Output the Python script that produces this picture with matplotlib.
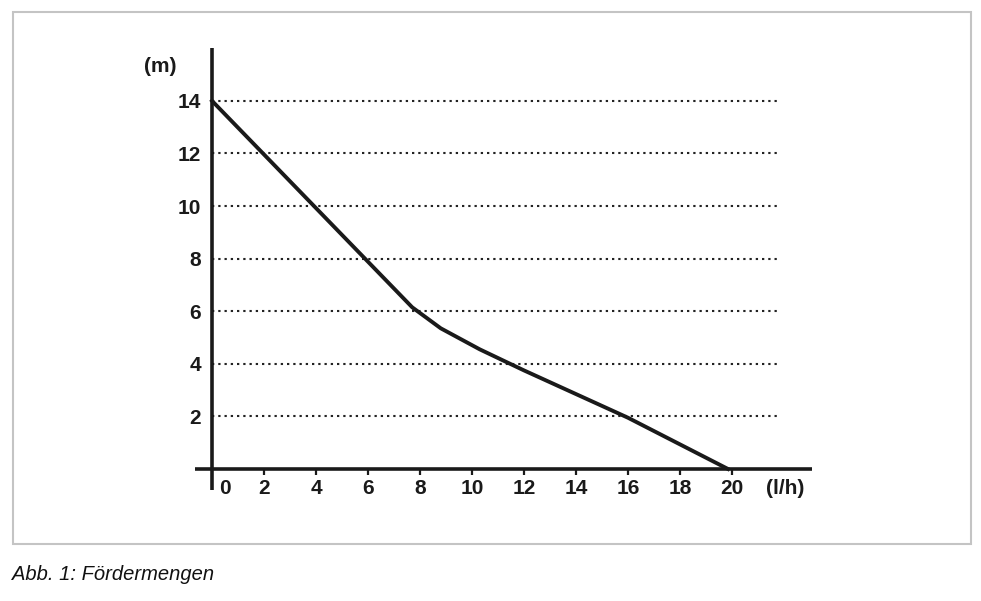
import matplotlib.pyplot as plt
from matplotlib.patches import Rectangle

# Förderkennlinie: Menge (l/h) gegen Förderhöhe (m)
menge = [0, 7.7, 8.8, 10.3, 12, 16, 19.85]
hoehe = [14, 6.15, 5.35, 4.55, 3.75, 1.95, 0]

x_ticks = [2, 4, 6, 8, 10, 12, 14, 16, 18, 20]
y_ticks = [2, 4, 6, 8, 10, 12, 14]

plt.rcParams['font.family'] = ['Liberation Sans', 'DejaVu Sans']
fs = 15

fig = plt.figure(figsize=(9.81, 6.01), dpi=100, facecolor="white")

# grauer Rahmen um die Abbildung
fig.patches.append(Rectangle((13/981, 1-544/601), 958/981, 532/601, transform=fig.transFigure,
                             fill=False, edgecolor="#c4c4c4", linewidth=1.5))

ax = fig.add_axes([212/981, 1-469/601, 600/981, 421/601])
ax.set_xlim(0, 23.08)
ax.set_ylim(0, 16.01)
for s in ax.spines.values():
    s.set_visible(False)

# gepunktete Hilfslinien
for y in y_ticks:
    ax.plot([0, 21.8], [y, y], color="#222222", linestyle=(0, (1.1, 1.9)), linewidth=1.5)

# Achsen
ax.plot([-0.654, 23.08], [0, 0], color="#1a1a1a", linewidth=2.6, clip_on=False, solid_capstyle="butt")
ax.plot([0, 0], [-0.8, 16.01], color="#1a1a1a", linewidth=2.6, clip_on=False, solid_capstyle="butt")

# Kennlinie
ax.plot(menge, hoehe, color="#1a1a1a", linewidth=2.8, solid_joinstyle="round", clip_on=False)

ax.set_xticks(x_ticks)
ax.set_xticklabels([str(v) for v in x_ticks], fontsize=fs, fontweight="bold", color="#1a1a1a")
ax.tick_params(axis="x", direction="out", length=4.5, width=1.6, pad=3, color="#1a1a1a")
ax.set_yticks(y_ticks)
ax.set_yticklabels([str(v) for v in y_ticks], fontsize=fs, fontweight="bold", color="#1a1a1a")
ax.tick_params(axis="y", length=0, pad=8)

ax.annotate("0", xy=(0, 0), xytext=(9.5, -7.3), textcoords="offset points", ha="center", va="top",
            fontsize=fs, fontweight="bold", color="#1a1a1a", annotation_clip=False)
ax.annotate("(l/h)", xy=(22.04, 0), xytext=(0, -7.3), textcoords="offset points", ha="center", va="top",
            fontsize=fs, fontweight="bold", color="#1a1a1a", annotation_clip=False)
ax.text(-2.0, 15.3, "(m)", ha="center", va="center", fontsize=fs, fontweight="bold", color="#1a1a1a")

fig.text(12/981, 1-574/601, "Abb. 1: Fördermengen", ha="left", va="center", fontsize=14.5,
         style="italic", color="#111111")

plt.savefig("out.png", dpi=100)
